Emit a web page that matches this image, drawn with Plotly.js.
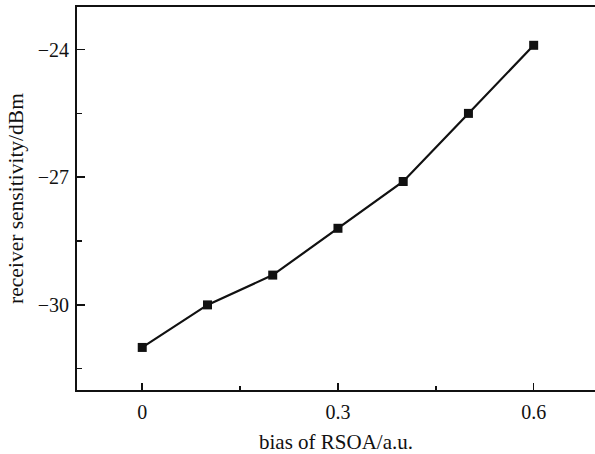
<!DOCTYPE html>
<html>
<head>
<meta charset="utf-8">
<script src="https://cdn.plot.ly/plotly-3.0.1.min.js"></script>
<style>html,body{margin:0;padding:0;background:#fff;}#chart{width:595px;height:454px;}</style>
</head>
<body>
<div id="chart"></div>
<script>
const biasValues = [0, 0.1, 0.2, 0.3, 0.4, 0.5, 0.6];
const sensitivityValues = [-31.0, -30.0, -29.3, -28.2, -27.1, -25.5, -23.9];
const xTickValues = [0, 0.3, 0.6];
const xTickLabels = ['0', '0.3', '0.6'];
const yTickValues = [-24, -27, -30];
const xTitle = 'bias of RSOA/a.u.';
const yTitle = 'receiver sensitivity/dBm';

const fontFam = '"Liberation Serif", "Times New Roman", serif';

Plotly.newPlot('chart', [{
  x: biasValues,
  y: sensitivityValues,
  type: 'scatter',
  mode: 'lines+markers',
  line: {color: '#111', width: 2.2},
  marker: {symbol: 'square', size: 9, color: '#111'},
  showlegend: false
}], {
  width: 595, height: 454,
  margin: {l: 77, r: 0, t: 7, b: 64},
  paper_bgcolor: '#fff', plot_bgcolor: '#fff',
  font: {family: fontFam, size: 20, color: '#111'},
  xaxis: {
    range: [-0.1, 0.694],
    tickmode: 'array', tickvals: xTickValues, ticktext: xTickLabels,
    ticks: 'inside', ticklen: 7, tickwidth: 1.5, tickcolor: '#111',
    minor: {dtick: 0.15, tick0: 0, ticks: 'inside', ticklen: 4, tickwidth: 1.5, tickcolor: '#111', showgrid: false},
    showline: true, linewidth: 2, linecolor: '#111', mirror: true,
    showgrid: false, zeroline: false,
    ticklabelstandoff: 3,
    tickfont: {family: fontFam, size: 20, color: '#111'},
    title: {text: xTitle, font: {family: fontFam, size: 21, color: '#111'}, standoff: 17}
  },
  yaxis: {
    range: [-32, -23],
    tickmode: 'array', tickvals: yTickValues,
    ticks: 'inside', ticklen: 8, tickwidth: 1.5, tickcolor: '#111',
    minor: {tickvals: [-25.5, -28.5, -31.5], ticks: 'inside', ticklen: 5, tickwidth: 1.5, tickcolor: '#111', showgrid: false},
    showline: true, linewidth: 2, linecolor: '#111',
    showgrid: false, zeroline: false,
    ticklabelstandoff: 2,
    tickfont: {family: fontFam, size: 20, color: '#111'},
    title: {text: yTitle, font: {family: fontFam, size: 21.5, color: '#111'}, standoff: 8}
  }
}, {displayModeBar: false, staticPlot: true});
</script>
</body>
</html>
